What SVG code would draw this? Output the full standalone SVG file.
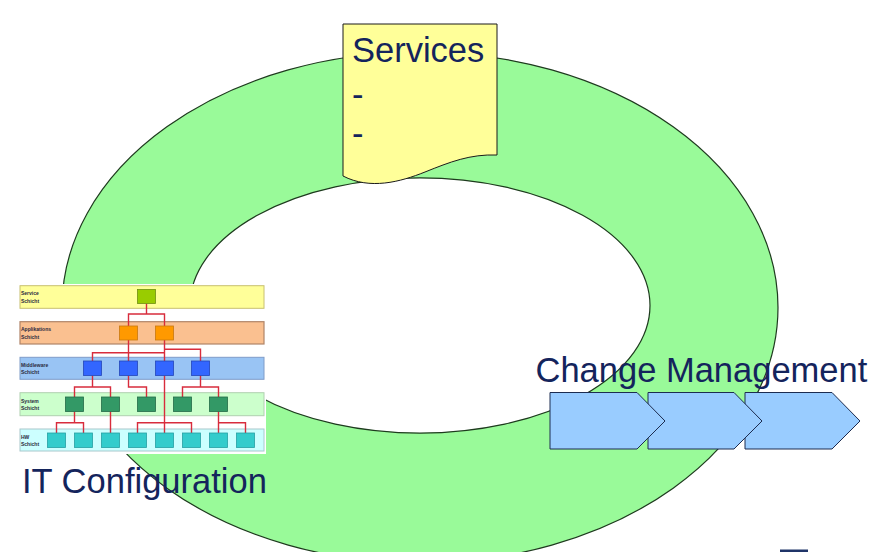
<svg xmlns="http://www.w3.org/2000/svg" width="871" height="552" viewBox="0 0 871 552">
<style>
.big{font-family:"Liberation Sans",Arial,sans-serif;font-size:34.5px;fill:#14245c}
.lbl{font-family:"Liberation Sans",Arial,sans-serif;font-size:5px;font-weight:bold;fill:#2a2a40}
.wire{fill:none;stroke:#d82c3c;stroke-width:1.4}
.step{fill:#99ccff;stroke:#1c2c50;stroke-width:1}
.sv{fill:#99cc00;stroke:#6f8f10;stroke-width:0.8}
.ap{fill:#ff9900;stroke:#c87810;stroke-width:0.8}
.mw{fill:#3366ff;stroke:#2446b8;stroke-width:0.8}
.sy{fill:#339966;stroke:#246b48;stroke-width:0.8}
.hw{fill:#33cccc;stroke:#25a0a4;stroke-width:0.8}
</style>
<rect width="871" height="552" fill="#ffffff"/>
<g id="ring">
<path d="M62,307.5 A358,255.5 0 1,0 778,307.5 A358,255.5 0 1,0 62,307.5 Z M190,305.5 A230,127.5 0 1,0 650,305.5 A230,127.5 0 1,0 190,305.5 Z" fill="#99fa99" fill-rule="evenodd" stroke="#1e3a1e" stroke-width="1.2"/>
</g>
<g id="services">
<path d="M343,24 H497 V155 C470,154 450,162 425,172 C400,182 370,190 343,176 Z" fill="#ffff99" stroke="#1a1a1a" stroke-width="1"/>
<text class="big" x="352" y="62">Services</text>
<text class="big" x="352" y="105.5">-</text>
<text class="big" x="352" y="144.5">-</text>
</g>
<g id="change-management">
<text class="big" x="535.5" y="382">Change Management</text>
<polygon class="step" points="745,392.5 832,392.5 860,421 832,449 745,449"/>
<polygon class="step" points="648,392.5 734,392.5 762,421 734,449 648,449"/>
<polygon class="step" points="550,392.5 637,392.5 665,421 637,449 550,449"/>
</g>
<g id="it-configuration">
<rect x="17" y="284" width="249" height="170" fill="#ffffff"/>
<rect x="20" y="285.7" width="244" height="22.6" fill="#ffff99" stroke="#c8c070" stroke-width="1"/>
<rect x="20" y="321.7" width="244" height="22.3" fill="#fac090" stroke="#b08468" stroke-width="1.2"/>
<rect x="20" y="357.3" width="244" height="22" fill="#99c4f4" stroke="#7f9cc8" stroke-width="1"/>
<rect x="20" y="392.7" width="244" height="23" fill="#ccffcc" stroke="#b0d0b0" stroke-width="1"/>
<rect x="20" y="429" width="244" height="22" fill="#ccffff" stroke="#a8c8cc" stroke-width="1"/>
<text class="lbl" x="21" y="295">Service</text><text class="lbl" x="21" y="302.5">Schicht</text>
<text class="lbl" x="21" y="331">Applikations</text><text class="lbl" x="21" y="338.5">Schicht</text>
<text class="lbl" x="21" y="366.5">Middleware</text><text class="lbl" x="21" y="374">Schicht</text>
<text class="lbl" x="21" y="402.5">System</text><text class="lbl" x="21" y="410">Schicht</text>
<text class="lbl" x="21" y="438.5">HW</text><text class="lbl" x="21" y="446">Schicht</text>
<g id="config-wires">
<path class="wire" d="M146.5,303.5 V314 M128.5,326 V314 H164.5 V326"/>
<path class="wire" d="M128.5,340 V361 M92.5,361 V352.7 H164.5 M164.5,340 V361 M164.5,349.3 H200.5 V361"/>
<path class="wire" d="M92.5,375.5 V387 M74.5,397 V387 H110.5 V397 M128.5,375.5 V387 H146.5 V397 M164.5,375.5 V433 M200.5,375.5 V387 M182.5,397 V387 H218.5 V397"/>
<path class="wire" d="M74.5,411.5 V422.7 M56.5,433 V422.7 H83.5 V433 M110.5,411.5 V433 M137.5,433 V422.7 H191.5 V433 M218.5,411.5 V433 M218.5,422.7 H245.5 V433"/>
</g>
<rect class="sv" x="137.5" y="289.5" width="18" height="14"/>
<rect class="ap" x="119.5" y="326" width="18" height="14"/>
<rect class="ap" x="155.5" y="326" width="18" height="14"/>
<rect class="mw" x="83.5" y="361" width="18" height="14.5"/>
<rect class="mw" x="119.5" y="361" width="18" height="14.5"/>
<rect class="mw" x="155.5" y="361" width="18" height="14.5"/>
<rect class="mw" x="191.5" y="361" width="18" height="14.5"/>
<rect class="sy" x="65.5" y="397" width="18" height="14.5"/>
<rect class="sy" x="101.5" y="397" width="18" height="14.5"/>
<rect class="sy" x="137.5" y="397" width="18" height="14.5"/>
<rect class="sy" x="173.5" y="397" width="18" height="14.5"/>
<rect class="sy" x="209.5" y="397" width="18" height="14.5"/>
<rect class="hw" x="47.5" y="433" width="18" height="14.5"/>
<rect class="hw" x="74.5" y="433" width="18" height="14.5"/>
<rect class="hw" x="101.5" y="433" width="18" height="14.5"/>
<rect class="hw" x="128.5" y="433" width="18" height="14.5"/>
<rect class="hw" x="155.5" y="433" width="18" height="14.5"/>
<rect class="hw" x="182.5" y="433" width="18" height="14.5"/>
<rect class="hw" x="209.5" y="433" width="18" height="14.5"/>
<rect class="hw" x="236.5" y="433" width="18" height="14.5"/>
<text class="big" x="22" y="492.5">IT Configuration</text>
</g>
<rect x="780" y="549.5" width="28" height="3" fill="#1f3468"/>
</svg>
